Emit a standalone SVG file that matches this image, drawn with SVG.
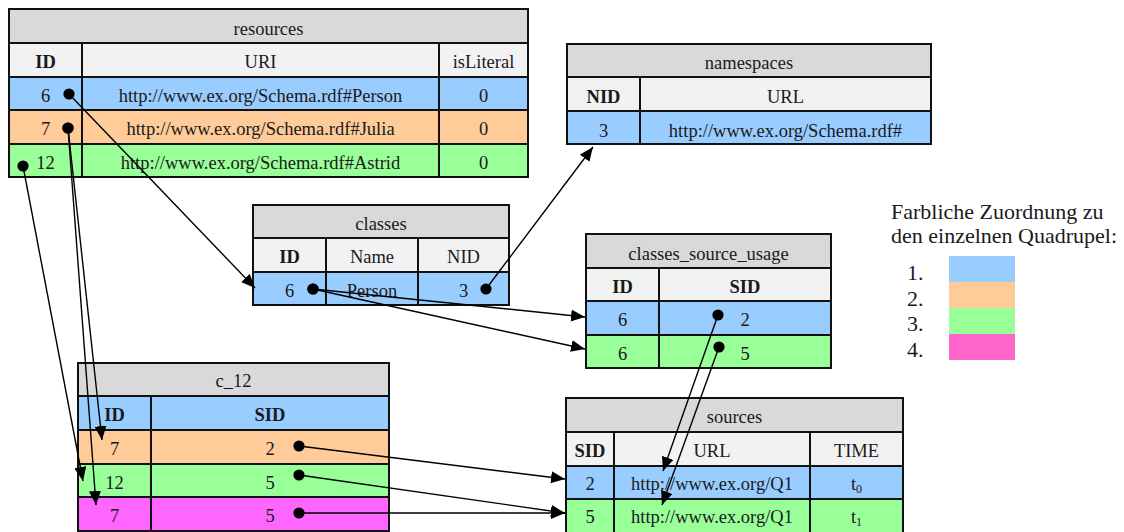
<svg xmlns="http://www.w3.org/2000/svg" width="1124" height="532" viewBox="0 0 1124 532">
  <style>
    .title { fill: #d9d9d9; }
    .head { fill: #f2f2f2; }
    .blue { fill: #99ccff; }
    .orange { fill: #ffcc99; }
    .green { fill: #99ff99; }
    .magenta { fill: #ff66ff; }
    .pink { fill: #ff66cc; }
    .grid { fill: none; stroke: #111; stroke-width: 2; }
    text { font-family: "Liberation Serif", "Times New Roman", serif; font-size: 18.5px; fill: #1a1a1a; text-anchor: middle; }
    .b { font-weight: bold; }
    .legend { font-size: 22px; text-anchor: start; }
    .conn { fill: none; stroke: #000; stroke-width: 1.4; marker-start: url(#dot); marker-end: url(#arrow); }
  </style>
  <defs>
    <marker id="arrow" markerWidth="14" markerHeight="12" refX="14" refY="6" orient="auto" markerUnits="userSpaceOnUse">
      <path d="M0,0 L14,6 L0,12 z" fill="#000"/>
    </marker>
    <marker id="dot" markerWidth="12" markerHeight="12" refX="6" refY="6" markerUnits="userSpaceOnUse">
      <circle cx="6" cy="6" r="5.6" fill="#000"/>
    </marker>
  </defs>

  <rect width="1124" height="532" fill="#fff"/>

  <!-- resources -->
  <g id="resources">
    <rect class="title" x="9" y="9" width="519" height="34"/>
    <rect class="head" x="9" y="43" width="519" height="34"/>
    <rect class="blue" x="9" y="77" width="519" height="33"/>
    <rect class="orange" x="9" y="110" width="519" height="34"/>
    <rect class="green" x="9" y="144" width="519" height="33"/>
    <rect class="grid" x="9" y="9" width="519" height="168"/>
    <path class="grid" d="M9,43 H528 M9,77 H528 M9,110 H528 M9,144 H528 M82,43 V177 M439,43 V177"/>
    <text x="268.5" y="35">resources</text>
    <text class="b" x="45.5" y="68">ID</text>
    <text x="260.5" y="68">URI</text>
    <text x="483.5" y="68">isLiteral</text>
    <text x="45.5" y="102">6</text>
    <text x="260.5" y="102">http://www.ex.org/Schema.rdf#Person</text>
    <text x="483.5" y="102">0</text>
    <text x="45.5" y="135">7</text>
    <text x="260.5" y="135">http://www.ex.org/Schema.rdf#Julia</text>
    <text x="483.5" y="135">0</text>
    <text x="45.5" y="169">12</text>
    <text x="260.5" y="169">http://www.ex.org/Schema.rdf#Astrid</text>
    <text x="483.5" y="169">0</text>
  </g>

  <!-- namespaces -->
  <g id="namespaces">
    <rect class="title" x="567" y="44" width="364" height="33"/>
    <rect class="head" x="567" y="77" width="364" height="34"/>
    <rect class="blue" x="567" y="111" width="364" height="33"/>
    <rect class="grid" x="567" y="44" width="364" height="100"/>
    <path class="grid" d="M567,77 H931 M567,111 H931 M640,77 V144"/>
    <text x="749" y="69">namespaces</text>
    <text class="b" x="603.5" y="103">NID</text>
    <text x="785.5" y="103">URL</text>
    <text x="603.5" y="137">3</text>
    <text x="785.5" y="137">http://www.ex.org/Schema.rdf#</text>
  </g>

  <!-- classes -->
  <g id="classes">
    <rect class="title" x="253" y="205" width="256" height="33"/>
    <rect class="head" x="253" y="238" width="256" height="34"/>
    <rect class="blue" x="253" y="272" width="256" height="33"/>
    <rect class="grid" x="253" y="205" width="256" height="100"/>
    <path class="grid" d="M253,238 H509 M253,272 H509 M326,238 V305 M418,238 V305"/>
    <text x="381" y="230">classes</text>
    <text class="b" x="289.5" y="263">ID</text>
    <text x="372" y="263">Name</text>
    <text x="463.5" y="263">NID</text>
    <text x="289.5" y="297">6</text>
    <text x="372" y="297">Person</text>
    <text x="463.5" y="297">3</text>
  </g>

  <!-- classes_source_usage -->
  <g id="classes_source_usage">
    <rect class="title" x="586" y="234" width="245" height="34"/>
    <rect class="head" x="586" y="268" width="245" height="33"/>
    <rect class="blue" x="586" y="301" width="245" height="34"/>
    <rect class="green" x="586" y="335" width="245" height="33"/>
    <rect class="grid" x="586" y="234" width="245" height="134"/>
    <path class="grid" d="M586,268 H831 M586,301 H831 M586,335 H831 M659,268 V368"/>
    <text x="708.5" y="260">classes_source_usage</text>
    <text class="b" x="622.5" y="293">ID</text>
    <text class="b" x="745" y="293">SID</text>
    <text x="622.5" y="326">6</text>
    <text x="745" y="326">2</text>
    <text x="622.5" y="360">6</text>
    <text x="745" y="360">5</text>
  </g>

  <!-- c_12 -->
  <g id="c_12">
    <rect class="title" x="78" y="363" width="311" height="33"/>
    <rect class="blue" x="78" y="396" width="311" height="34"/>
    <rect class="orange" x="78" y="430" width="311" height="34"/>
    <rect class="green" x="78" y="464" width="311" height="33"/>
    <rect class="magenta" x="78" y="497" width="311" height="34"/>
    <rect class="grid" x="78" y="363" width="311" height="168"/>
    <path class="grid" d="M78,396 H389 M78,430 H389 M78,464 H389 M78,497 H389 M151,396 V531"/>
    <text x="233.5" y="387">c_12</text>
    <text class="b" x="114.5" y="421">ID</text>
    <text class="b" x="270" y="421">SID</text>
    <text x="114.5" y="455">7</text>
    <text x="270" y="455">2</text>
    <text x="114.5" y="489">12</text>
    <text x="270" y="489">5</text>
    <text x="114.5" y="522">7</text>
    <text x="270" y="522">5</text>
  </g>

  <!-- sources -->
  <g id="sources">
    <rect class="title" x="566" y="398" width="337" height="34"/>
    <rect class="head" x="566" y="432" width="337" height="34"/>
    <rect class="blue" x="566" y="466" width="337" height="33"/>
    <rect class="green" x="566" y="499" width="337" height="35"/>
    <rect class="grid" x="566" y="398" width="337" height="136"/>
    <path class="grid" d="M566,432 H903 M566,466 H903 M566,499 H903 M614,432 V534 M810,432 V534"/>
    <text x="734.5" y="423">sources</text>
    <text class="b" x="590" y="457">SID</text>
    <text x="712" y="457">URL</text>
    <text x="856.5" y="457">TIME</text>
    <text x="590" y="490">2</text>
    <text x="712" y="490">http://www.ex.org/Q1</text>
    <text x="856.5" y="490">t<tspan font-size="12" dy="3">0</tspan></text>
    <text x="590" y="523">5</text>
    <text x="712" y="523">http://www.ex.org/Q1</text>
    <text x="856.5" y="523">t<tspan font-size="12" dy="3">1</tspan></text>
  </g>

  <!-- colour legend -->
  <g id="legend">
    <text class="legend" x="891" y="219">Farbliche Zuordnung zu</text>
    <text class="legend" x="891" y="243">den einzelnen Quadrupel:</text>
    <text class="legend" x="907" y="280">1.</text>
    <text class="legend" x="907" y="306">2.</text>
    <text class="legend" x="907" y="331">3.</text>
    <text class="legend" x="907" y="357">4.</text>
    <rect class="blue" x="949" y="256" width="66" height="26"/>
    <rect class="orange" x="949" y="282" width="66" height="26"/>
    <rect class="green" x="949" y="308" width="66" height="26"/>
    <rect class="pink" x="949" y="334" width="66" height="26"/>
  </g>

  <!-- foreign-key connectors -->
  <g id="connectors">
    <line class="conn" x1="69" y1="94" x2="255" y2="288"/>
    <line class="conn" x1="68" y1="128" x2="102" y2="440"/>
    <line class="conn" x1="68" y1="128" x2="96" y2="505"/>
    <line class="conn" x1="23" y1="166" x2="83" y2="481"/>
    <line class="conn" x1="313" y1="289" x2="585" y2="317"/>
    <line class="conn" x1="313" y1="289" x2="585" y2="349"/>
    <line class="conn" x1="486" y1="289" x2="593" y2="147"/>
    <line class="conn" x1="718" y1="315" x2="663" y2="471"/>
    <line class="conn" x1="719" y1="347" x2="662" y2="505"/>
    <line class="conn" x1="299" y1="446" x2="565" y2="479"/>
    <line class="conn" x1="299" y1="475" x2="565" y2="513"/>
    <line class="conn" x1="299" y1="513" x2="565" y2="513"/>
  </g>
</svg>
